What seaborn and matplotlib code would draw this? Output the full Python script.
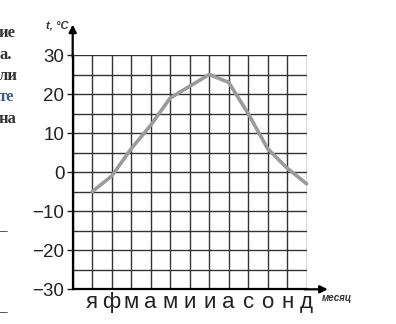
import numpy as np
import pandas as pd
import matplotlib
matplotlib.use("Agg")
import matplotlib.pyplot as plt
import seaborn as sns

months = ['я', 'ф', 'м', 'а', 'м', 'и', 'и', 'а', 'с', 'о', 'н', 'д']
temps = [-5, -1, 6, 12, 19, 22, 25, 23, 15, 6, 1, -3]
y_major = [-30, -20, -10, 0, 10, 20, 30]
y_labels = ['−30', '−20', '−10', '0', '10', '20', '30']
side_text = ['ие', 'а.', 'ли', 'те', 'на']

sns.set_style("white")
plt.rcParams['font.family'] = ['Liberation Sans', 'DejaVu Sans']

df = pd.DataFrame({'pos': np.arange(1, len(months) + 1), 't': temps})

fig = plt.figure(figsize=(3.96, 3.24), dpi=100)
ax = fig.add_axes([72.7 / 396, 1 - 289.3 / 324, 234 / 396, 234.3 / 324])

sns.lineplot(data=df, x='pos', y='t', ax=ax, color='#9b9b9b', linewidth=2.6,
             zorder=3, clip_on=False)

ax.set_xlim(0, 12)
ax.set_ylim(-30, 30)
ax.set_xticks(df['pos'])
ax.set_xticklabels(months, fontsize=16)
ax.set_xticks(np.arange(0, 13), minor=True)
ax.set_yticks(y_major)
ax.set_yticklabels(y_labels, fontsize=13.5)
ax.set_yticks(np.arange(-30, 31, 5), minor=True)
ax.grid(True, which='both', color='#333333', linewidth=1.0)
ax.tick_params(axis='x', which='both', length=0, pad=2, colors='#222222')
ax.tick_params(axis='y', which='major', length=4, width=1.0, pad=2, color='#222222',
               labelcolor='#222222', left=True)
ax.tick_params(axis='y', which='minor', length=0)
ax.set_xlabel('')
ax.set_ylabel('')
for s in ['top', 'right']:
    ax.spines[s].set_visible(False)
for s in ['left', 'bottom']:
    ax.spines[s].set_color('black')
    ax.spines[s].set_linewidth(1.6)
    ax.spines[s].set_zorder(4)

ax.annotate('', xy=(0, 1.13), xytext=(0, 0.99), xycoords='axes fraction',
            arrowprops=dict(arrowstyle='-|>', color='black', lw=1.6, mutation_scale=11,
                            shrinkA=0, shrinkB=0))
ax.annotate('', xy=(1.09, 0), xytext=(0.99, 0), xycoords='axes fraction',
            arrowprops=dict(arrowstyle='-|>', color='black', lw=1.6, mutation_scale=11,
                            shrinkA=0, shrinkB=0))

fig.text(68 / 396, 1 - 25 / 324, 't, °C', fontsize=8, style='italic',
         fontweight='bold', ha='right', va='center', color='#333333')
fig.text(322 / 396, 1 - 298 / 324, 'месяц', fontsize=7, style='italic',
         fontweight='bold', ha='left', va='center', color='#333333')

ys = [33, 55, 76, 97, 119]
cols = ['#333333', '#333333', '#333333', '#3a5a80', '#333333']
for txt, yy, cc in zip(side_text, ys, cols):
    fig.text(-1 / 396, 1 - yy / 324, txt, fontsize=12, fontweight='bold',
             family='Liberation Serif', ha='left', va='center', color=cc)
fig.text(0, 1 - 231 / 324, '–', fontsize=10, ha='left', va='center', color='#555555')
fig.text(0, 1 - 312 / 324, '–', fontsize=10, ha='left', va='center', color='#555555')

fig.savefig('out.png', dpi=100)
